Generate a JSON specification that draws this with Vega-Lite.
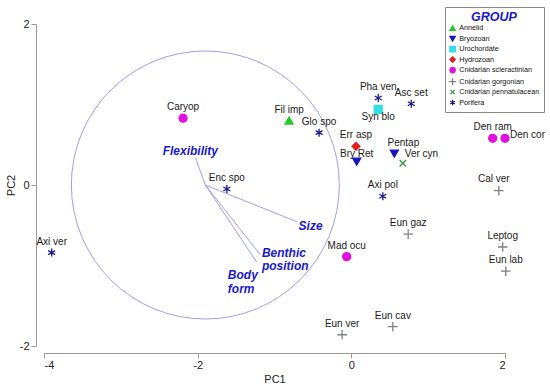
{
  "$schema": "https://vega.github.io/schema/vega-lite/v6.json",
  "autosize": "none",
  "width": 461,
  "height": 322,
  "padding": {"left": 44, "top": 24, "right": 45, "bottom": 40},
  "background": "white",
  "config": {
    "view": {"stroke": null},
    "font": "Liberation Sans",
    "axis": {"grid": false, "domainColor": "#9a9a9a", "tickColor": "#9a9a9a", "labelColor": "#222222", "labelFontSize": 11, "labelFont": "Liberation Sans", "titleFont": "Liberation Sans", "titleFontSize": 11, "titleFontWeight": "normal", "titleColor": "#222222"}
  },
  "datasets": {
    "pts": [
      {"name": "Axi ver", "group": "Porifera", "PC1": -3.90, "PC2": -0.84},
      {"name": "Caryop", "group": "Cnidarian scleractinian", "PC1": -2.19, "PC2": 0.83},
      {"name": "Enc spo", "group": "Porifera", "PC1": -1.62, "PC2": -0.05},
      {"name": "Fil imp", "group": "Annelid", "PC1": -0.81, "PC2": 0.80},
      {"name": "Glo spo", "group": "Porifera", "PC1": -0.42, "PC2": 0.65},
      {"name": "Pha ven", "group": "Porifera", "PC1": 0.35, "PC2": 1.08},
      {"name": "Syn blo", "group": "Urochordate", "PC1": 0.35, "PC2": 0.94},
      {"name": "Asc set", "group": "Porifera", "PC1": 0.78, "PC2": 1.01},
      {"name": "Err asp", "group": "Hydrozoan", "PC1": 0.06, "PC2": 0.48},
      {"name": "Bry Ret", "group": "Bryozoan", "PC1": 0.07, "PC2": 0.29},
      {"name": "Pentap", "group": "Bryozoan", "PC1": 0.56, "PC2": 0.39},
      {"name": "Ver cyn", "group": "Cnidarian pennatulacean", "PC1": 0.67, "PC2": 0.27},
      {"name": "Den ram", "group": "Cnidarian scleractinian", "PC1": 1.84, "PC2": 0.58},
      {"name": "Den cor", "group": "Cnidarian scleractinian", "PC1": 2.00, "PC2": 0.58},
      {"name": "Cal ver", "group": "Cnidarian gorgonian", "PC1": 1.92, "PC2": -0.07},
      {"name": "Axi pol", "group": "Porifera", "PC1": 0.41, "PC2": -0.14},
      {"name": "Eun gaz", "group": "Cnidarian gorgonian", "PC1": 0.74, "PC2": -0.61},
      {"name": "Mad ocu", "group": "Cnidarian scleractinian", "PC1": -0.06, "PC2": -0.89},
      {"name": "Leptog", "group": "Cnidarian gorgonian", "PC1": 1.97, "PC2": -0.77},
      {"name": "Eun lab", "group": "Cnidarian gorgonian", "PC1": 2.01, "PC2": -1.07},
      {"name": "Eun cav", "group": "Cnidarian gorgonian", "PC1": 0.54, "PC2": -1.76},
      {"name": "Eun ver", "group": "Cnidarian gorgonian", "PC1": -0.12, "PC2": -1.86}
    ],
    "vec": [
      {"var": "Flexibility", "x0": -1.9, "y0": 0, "x": -2.03, "y": 0.34},
      {"var": "Size", "x0": -1.9, "y0": 0, "x": -0.70, "y": -0.46},
      {"var": "Benthic\nposition", "x0": -1.9, "y0": 0, "x": -1.19, "y": -0.86},
      {"var": "Body\nform", "x0": -1.9, "y0": 0, "x": -1.23, "y": -0.96}
    ],
    "circ": [{"x": -1.9, "y": 0}]
  },
  "layer": [
    {
      "data": {"name": "circ"},
      "mark": {"type": "point", "shape": "circle", "size": 71824, "filled": false, "stroke": "#a0a0e4", "strokeWidth": 1, "opacity": 1},
      "encoding": {
        "x": {"field": "x", "type": "quantitative", "scale": {"domain": [-4, 2], "nice": false, "zero": false}, "axis": {"title": "PC1", "values": [-4, -2, 0, 2], "labelExpr": "'' + datum.value", "offset": 7, "tickSize": 5, "labelPadding": 1, "titlePadding": 3}},
        "y": {"field": "y", "type": "quantitative", "scale": {"domain": [-2, 2], "nice": false, "zero": false}, "axis": {"title": "PC2", "values": [-2, 0, 2], "labelExpr": "'' + datum.value", "offset": 8, "tickSize": 5, "labelPadding": 2, "titlePadding": 3}}
      }
    },
    {
      "data": {"name": "vec"},
      "mark": {"type": "rule", "stroke": "#a0a0e4", "strokeWidth": 1},
      "encoding": {
        "x": {"field": "x0", "type": "quantitative"},
        "y": {"field": "y0", "type": "quantitative"},
        "x2": {"field": "x"},
        "y2": {"field": "y"}
      }
    },
    {
      "data": {"name": "vec"},
      "transform": [{"filter": {"field": "var", "equal": "Flexibility"}}],
      "mark": {"type": "text", "font": "Liberation Sans", "fontStyle": "italic", "fontWeight": "bold", "fontSize": 12, "color": "#1a1acc", "align": "center", "baseline": "middle", "dx": -5, "dy": -7},
      "encoding": {"x": {"field": "x", "type": "quantitative"}, "y": {"field": "y", "type": "quantitative"}, "text": {"field": "var"}}
    },
    {
      "data": {"name": "vec"},
      "transform": [{"filter": {"field": "var", "equal": "Size"}}],
      "mark": {"type": "text", "font": "Liberation Sans", "fontStyle": "italic", "fontWeight": "bold", "fontSize": 12, "color": "#1a1acc", "align": "left", "baseline": "middle", "dx": 1, "dy": 4},
      "encoding": {"x": {"field": "x", "type": "quantitative"}, "y": {"field": "y", "type": "quantitative"}, "text": {"field": "var"}}
    },
    {
      "data": {"name": "vec"},
      "transform": [{"filter": {"field": "var", "equal": "Benthic\nposition"}}],
      "mark": {"type": "text", "font": "Liberation Sans", "fontStyle": "italic", "fontWeight": "bold", "fontSize": 12, "lineHeight": 13, "lineBreak": "\n", "color": "#1a1acc", "align": "left", "baseline": "middle", "dx": 2, "dy": -1},
      "encoding": {"x": {"field": "x", "type": "quantitative"}, "y": {"field": "y", "type": "quantitative"}, "text": {"field": "var"}}
    },
    {
      "data": {"name": "vec"},
      "transform": [{"filter": {"field": "var", "equal": "Body\nform"}}],
      "mark": {"type": "text", "font": "Liberation Sans", "fontStyle": "italic", "fontWeight": "bold", "fontSize": 12, "lineHeight": 14, "lineBreak": "\n", "color": "#1a1acc", "align": "left", "baseline": "middle", "dx": -29, "dy": 13},
      "encoding": {"x": {"field": "x", "type": "quantitative"}, "y": {"field": "y", "type": "quantitative"}, "text": {"field": "var"}}
    },
    {
      "data": {"name": "pts"},
      "mark": {"type": "point", "filled": true, "size": 64, "strokeWidth": 1.3, "opacity": 1},
      "encoding": {
        "x": {"field": "PC1", "type": "quantitative"},
        "y": {"field": "PC2", "type": "quantitative"},
        "fill": {"field": "group", "type": "nominal", "title": "GROUP",
          "scale": {"domain": ["Annelid", "Bryozoan", "Urochordate", "Hydrozoan", "Cnidarian scleractinian", "Cnidarian gorgonian", "Cnidarian pennatulacean", "Porifera"],
                    "range": ["#22cc22", "#1414c0", "#30e0e8", "#e02020", "#e010e0", "#808080", "#2a9a3a", "#1a1a88"]},
          "legend": {"orient": "none", "legendX": 401, "legendY": -17, "padding": 4, "strokeColor": "#8a8a8a", "fillColor": "white", "titleAnchor": "middle", "titleFont": "Liberation Sans", "titleFontSize": 12.5, "titleFontStyle": "italic", "titleFontWeight": "bold", "titleColor": "#1a1acc", "titlePadding": 1, "labelFont": "Liberation Sans", "labelFontSize": 7.2, "labelColor": "#111111", "labelOffset": 3, "symbolSize": 30, "symbolStrokeWidth": 1.2, "rowPadding": -0.5, "labelLimit": 200}},
        "stroke": {"field": "group", "type": "nominal", "title": "GROUP",
          "scale": {"domain": ["Annelid", "Bryozoan", "Urochordate", "Hydrozoan", "Cnidarian scleractinian", "Cnidarian gorgonian", "Cnidarian pennatulacean", "Porifera"],
                    "range": ["#22cc22", "#1414c0", "#30e0e8", "#e02020", "#e010e0", "#808080", "#2a9a3a", "#1a1a88"]},
          "legend": {"orient": "none", "legendX": 401, "legendY": -17}},
        "shape": {"field": "group", "type": "nominal", "title": "GROUP",
          "scale": {"domain": ["Annelid", "Bryozoan", "Urochordate", "Hydrozoan", "Cnidarian scleractinian", "Cnidarian gorgonian", "Cnidarian pennatulacean", "Porifera"],
                    "range": ["triangle-up", "triangle-down", "square", "diamond", "circle", "M-1.2,0L1.2,0M0,-1.2L0,1.2", "M-0.8,-0.8L0.8,0.8M-0.8,0.8L0.8,-0.8", "M0,-1L0,1M-0.87,-0.5L0.87,0.5M-0.87,0.5L0.87,-0.5"]},
          "legend": {"orient": "none", "legendX": 401, "legendY": -17}}
      }
    },
    {
      "data": {"name": "pts"},
      "transform": [{"filter": {"not": {"field": "name", "oneOf": ["Syn blo", "Ver cyn", "Den cor", "Pentap", "Bry Ret", "Cal ver"]}}}],
      "mark": {"type": "text", "font": "Liberation Sans", "fontSize": 10, "color": "#1a1a1a", "dy": -11},
      "encoding": {"x": {"field": "PC1", "type": "quantitative"}, "y": {"field": "PC2", "type": "quantitative"}, "text": {"field": "name"}}
    },
    {
      "data": {"name": "pts"},
      "transform": [{"filter": {"field": "name", "equal": "Syn blo"}}],
      "mark": {"type": "text", "font": "Liberation Sans", "fontSize": 10, "color": "#1a1a1a", "dy": 8},
      "encoding": {"x": {"field": "PC1", "type": "quantitative"}, "y": {"field": "PC2", "type": "quantitative"}, "text": {"field": "name"}}
    },
    {
      "data": {"name": "pts"},
      "transform": [{"filter": {"field": "name", "equal": "Bry Ret"}}],
      "mark": {"type": "text", "font": "Liberation Sans", "fontSize": 10, "color": "#1a1a1a", "dy": -8},
      "encoding": {"x": {"field": "PC1", "type": "quantitative"}, "y": {"field": "PC2", "type": "quantitative"}, "text": {"field": "name"}}
    },
    {
      "data": {"name": "pts"},
      "transform": [{"filter": {"field": "name", "equal": "Pentap"}}],
      "mark": {"type": "text", "font": "Liberation Sans", "fontSize": 10, "color": "#1a1a1a", "dx": 9, "dy": -11},
      "encoding": {"x": {"field": "PC1", "type": "quantitative"}, "y": {"field": "PC2", "type": "quantitative"}, "text": {"field": "name"}}
    },
    {
      "data": {"name": "pts"},
      "transform": [{"filter": {"field": "name", "equal": "Cal ver"}}],
      "mark": {"type": "text", "font": "Liberation Sans", "fontSize": 10, "color": "#1a1a1a", "dx": -5, "dy": -12},
      "encoding": {"x": {"field": "PC1", "type": "quantitative"}, "y": {"field": "PC2", "type": "quantitative"}, "text": {"field": "name"}}
    },
    {
      "data": {"name": "pts"},
      "transform": [{"filter": {"field": "name", "equal": "Ver cyn"}}],
      "mark": {"type": "text", "font": "Liberation Sans", "fontSize": 10, "color": "#1a1a1a", "align": "left", "dx": 2, "dy": -9},
      "encoding": {"x": {"field": "PC1", "type": "quantitative"}, "y": {"field": "PC2", "type": "quantitative"}, "text": {"field": "name"}}
    },
    {
      "data": {"name": "pts"},
      "transform": [{"filter": {"field": "name", "equal": "Den cor"}}],
      "mark": {"type": "text", "font": "Liberation Sans", "fontSize": 10, "color": "#1a1a1a", "align": "left", "dx": 5, "dy": -3},
      "encoding": {"x": {"field": "PC1", "type": "quantitative"}, "y": {"field": "PC2", "type": "quantitative"}, "text": {"field": "name"}}
    }
  ]
}
